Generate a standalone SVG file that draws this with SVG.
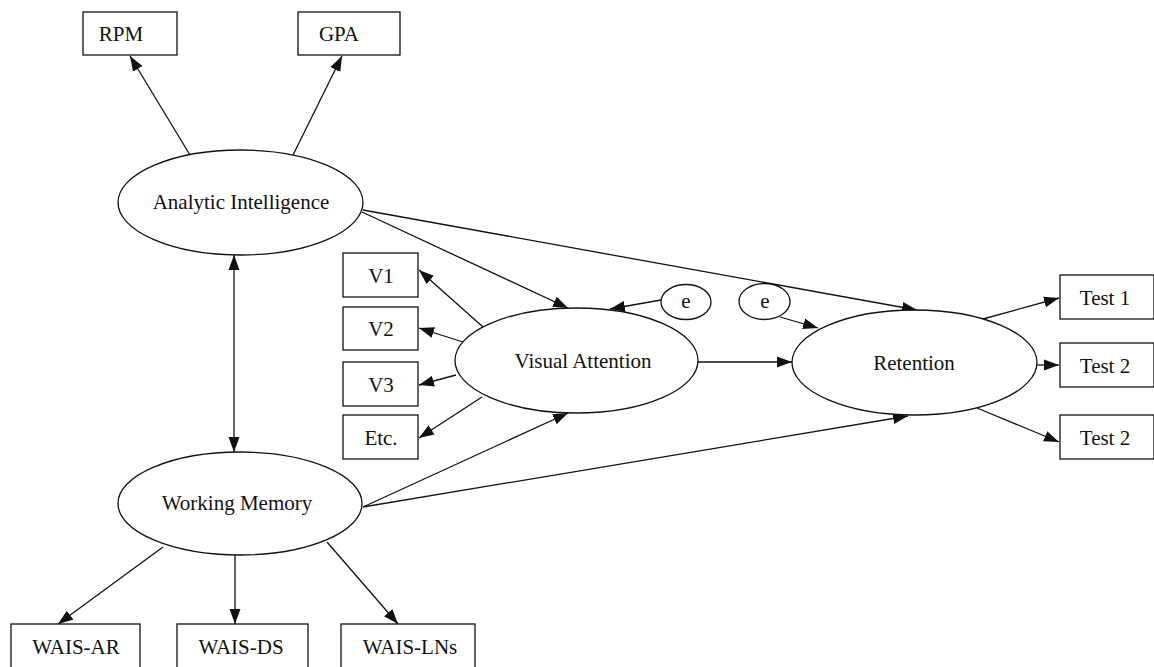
<svg xmlns="http://www.w3.org/2000/svg" width="1154" height="667" viewBox="0 0 1154 667">
<style>
.box{fill:#fff;stroke:#111;stroke-width:1.3}
.ell{fill:#fff;stroke:#111;stroke-width:1.3}
.lbl{font-family:"Liberation Serif","Times New Roman",serif;font-size:21px;fill:#111;text-anchor:middle}
.c line{stroke:#111;stroke-width:1.3;marker-end:url(#ah)}
</style>
<defs>
<marker id="ah" markerUnits="userSpaceOnUse" markerWidth="16" markerHeight="12" viewBox="0 0 16 12" refX="15" refY="6" orient="auto-start-reverse">
<path d="M0,0.5 L15,6 L0,11.5 z" fill="#111"/>
</marker>
</defs>
<rect width="1154" height="667" fill="#fff"/>
<g class="c" id="connectors">
<line x1="190" y1="155" x2="130" y2="56"/>
<line x1="293" y1="155" x2="342" y2="56"/>
<line x1="234" y1="255" x2="234" y2="452" marker-start="url(#ah)"/>
<line x1="362" y1="212" x2="568" y2="308"/>
<line x1="363" y1="210" x2="917" y2="310"/>
<line x1="483" y1="327" x2="419" y2="270"/>
<line x1="463" y1="342" x2="419" y2="328"/>
<line x1="456" y1="375" x2="419" y2="385"/>
<line x1="482" y1="397" x2="419" y2="438"/>
<line x1="363" y1="507" x2="568" y2="413"/>
<line x1="363" y1="507" x2="908" y2="416"/>
<line x1="698" y1="362" x2="792" y2="362"/>
<line x1="661" y1="300" x2="610" y2="309"/>
<line x1="780" y1="317" x2="818" y2="328"/>
<line x1="983" y1="319" x2="1059" y2="298"/>
<line x1="1037" y1="365" x2="1059" y2="365"/>
<line x1="977" y1="408" x2="1059" y2="442"/>
<line x1="163" y1="547" x2="58" y2="624"/>
<line x1="235" y1="555" x2="235" y2="624"/>
<line x1="327" y1="542" x2="398" y2="624"/>
</g>
<g id="rpm"><rect class="box" x="83" y="12" width="94" height="43"/><text class="lbl" x="121" y="41">RPM</text></g>
<g id="gpa"><rect class="box" x="298" y="12" width="102" height="43"/><text class="lbl" x="339" y="41">GPA</text></g>
<g id="analytic"><ellipse class="ell" cx="240.5" cy="202.5" rx="122.5" ry="52.5"/><text class="lbl" x="241" y="209">Analytic Intelligence</text></g>
<g id="working"><ellipse class="ell" cx="240" cy="503.5" rx="122" ry="51.5"/><text class="lbl" x="237" y="510">Working Memory</text></g>
<g id="visual"><ellipse class="ell" cx="576.5" cy="360.5" rx="121.5" ry="52.5"/><text class="lbl" x="583" y="368">Visual Attention</text></g>
<g id="retention"><ellipse class="ell" cx="914.5" cy="362.5" rx="122.5" ry="52.5"/><text class="lbl" x="914" y="370">Retention</text></g>
<g id="e1"><ellipse class="ell" cx="686" cy="302" rx="25" ry="17.5"/><text class="lbl" x="686" y="308">e</text></g>
<g id="e2"><ellipse class="ell" cx="764.5" cy="301.5" rx="25.5" ry="18"/><text class="lbl" x="765" y="308">e</text></g>
<g id="v1"><rect class="box" x="343" y="253" width="75" height="44"/><text class="lbl" x="381" y="283">V1</text></g>
<g id="v2"><rect class="box" x="343" y="307" width="75" height="43"/><text class="lbl" x="381" y="336">V2</text></g>
<g id="v3"><rect class="box" x="343" y="362" width="75" height="44"/><text class="lbl" x="381" y="392">V3</text></g>
<g id="etc"><rect class="box" x="343" y="415" width="75" height="44"/><text class="lbl" x="381" y="445">Etc.</text></g>
<g id="test1"><rect class="box" x="1060" y="275" width="94" height="44"/><text class="lbl" x="1105" y="305">Test 1</text></g>
<g id="test2"><rect class="box" x="1060" y="343" width="94" height="44"/><text class="lbl" x="1105" y="373">Test 2</text></g>
<g id="test2b"><rect class="box" x="1060" y="415" width="94" height="44"/><text class="lbl" x="1105" y="445">Test 2</text></g>
<g id="waisar"><rect class="box" x="11" y="624" width="129" height="50"/><text class="lbl" x="76" y="654">WAIS-AR</text></g>
<g id="waisds"><rect class="box" x="177" y="624" width="131" height="50"/><text class="lbl" x="241" y="654">WAIS-DS</text></g>
<g id="waislns"><rect class="box" x="341" y="624" width="134" height="50"/><text class="lbl" x="410" y="654">WAIS-LNs</text></g>
</svg>
